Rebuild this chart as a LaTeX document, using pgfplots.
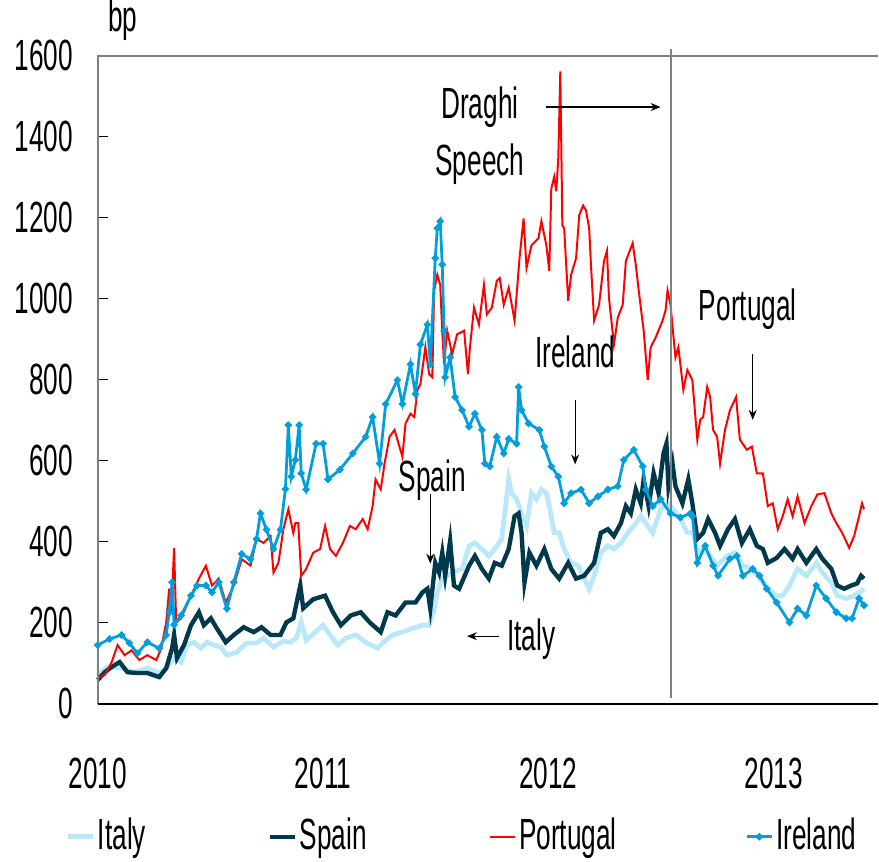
\documentclass[border=0pt]{standalone}
\usepackage{fontspec}
\setmainfont{Liberation Sans}[FakeStretch=0.6]
\usepackage{pgfplots}
\pgfplotsset{compat=1.18}
\usetikzlibrary{arrows.meta}
\definecolor{italyc}{RGB}{185,232,250}
\definecolor{spainc}{RGB}{0,56,76}
\definecolor{portc}{RGB}{255,0,0}
\definecolor{irec}{RGB}{0,158,218}
\pgfplotsset{irelegend/.style={legend image code/.code={\draw[##1, mark repeat=2, mark phase=2] plot coordinates {(0pt,0pt) (6.25pt,0pt) (12.5pt,0pt)};}}}
\begin{document}
\fontsize{22}{26}\selectfont
\begin{tikzpicture}
\begin{axis}[name=ax, scale only axis, width=393pt, height=326.5pt,
 xmin=0, xmax=3.463, ymin=0, ymax=1600,
 font=\fontsize{22}{26}\selectfont,
 axis line style={draw=none},
 clip=false,
 xtick={0,1,2,3}, xticklabels={2010,2011,2012,2013},
 x tick style={draw=none},
 xticklabel style={yshift=-20pt},
 ytick={0,200,...,1600},
 ytick pos=left, tick align=inside, major tick length=5pt,
 y tick style={black, line width=0.6pt},
 yticklabel style={xshift=-5pt},
 /pgf/number format/assume math mode=true,
 /pgf/number format/1000 sep={},
 legend columns=4,
 legend style={draw=none, fill=none, at={(-0.042,-0.205)}, anchor=west, inner sep=0pt,
   nodes={inner sep=1.5pt},
   column sep=0pt,
   font=\fontsize{22}{26}\selectfont},
 legend image code/.code={\draw[#1] (0pt,0pt) -- (12.5pt,0pt);},
]
\addplot[italyc, line width=2.4pt] coordinates {
(0.000,71)(0.044,91)(0.106,88)(0.163,78)(0.220,88)(0.273,76)(0.304,88)(0.339,113)(0.370,103)
(0.396,145)(0.427,152)(0.458,137)(0.485,152)(0.515,145)(0.546,140)(0.573,120)(0.617,127)
(0.661,150)(0.705,150)(0.736,162)(0.780,140)(0.824,155)(0.855,152)(0.881,162)(0.903,201)
(0.925,157)(0.956,172)(1.000,194)(1.031,170)(1.066,145)(1.101,162)(1.145,170)(1.189,152)
(1.242,137)(1.264,150)(1.308,170)(1.352,177)(1.396,186)(1.441,194)(1.471,194)(1.493,235)
(1.507,275)(1.529,309)(1.573,324)(1.617,333)(1.648,390)(1.674,397)(1.705,382)(1.736,365)
(1.762,382)(1.793,407)(1.824,554)(1.837,520)(1.859,505)(1.881,470)(1.903,439)(1.925,520)
(1.947,505)(1.969,529)(1.991,520)(2.004,488)(2.026,422)(2.048,422)(2.070,382)(2.101,348)
(2.132,341)(2.159,309)(2.181,284)(2.203,316)(2.233,373)(2.264,390)(2.291,382)(2.322,397)
(2.352,422)(2.379,439)(2.410,463)(2.432,446)(2.463,422)(2.498,480)(2.529,495)(2.555,480)
(2.586,456)(2.617,422)(2.643,422)(2.661,373)(2.687,382)(2.718,365)(2.749,341)(2.793,365)
(2.828,373)(2.863,341)(2.903,333)(2.938,309)(2.974,284)(3.013,267)(3.040,267)(3.070,292)
(3.106,333)(3.145,316)(3.189,348)(3.216,324)(3.256,299)(3.282,267)(3.322,260)(3.357,267)
(3.392,279)(3.401,284)
};
\addlegendentry{\makebox[84pt][l]{Italy}}
\addplot[spainc, line width=2.2pt] coordinates {
(0.000,59)(0.031,78)(0.062,91)(0.097,103)(0.132,78)(0.176,76)(0.220,76)(0.273,66)(0.304,88)
(0.330,137)(0.339,170)(0.352,113)(0.383,145)(0.414,194)(0.449,226)(0.471,194)(0.502,211)
(0.529,186)(0.568,152)(0.604,170)(0.648,189)(0.692,177)(0.727,189)(0.767,170)(0.811,170)
(0.837,201)(0.868,211)(0.899,292)(0.912,236)(0.956,258)(1.009,267)(1.044,226)(1.079,194)
(1.123,218)(1.167,226)(1.207,201)(1.256,177)(1.286,226)(1.322,218)(1.366,250)(1.410,250)
(1.441,275)(1.463,284)(1.476,235)(1.498,348)(1.515,324)(1.529,373)(1.542,316)(1.564,402)
(1.581,292)(1.604,284)(1.648,341)(1.674,365)(1.705,333)(1.736,309)(1.762,348)(1.793,341)
(1.824,382)(1.850,463)(1.868,470)(1.881,422)(1.894,299)(1.916,373)(1.947,341)(1.982,382)
(2.013,333)(2.048,309)(2.088,348)(2.123,309)(2.159,316)(2.203,348)(2.233,422)(2.264,431)
(2.291,414)(2.322,446)(2.344,488)(2.366,470)(2.388,529)(2.410,495)(2.423,554)(2.445,488)
(2.467,569)(2.489,520)(2.511,618)(2.524,642)(2.533,537)(2.551,593)(2.564,537)(2.595,495)
(2.621,554)(2.639,495)(2.661,407)(2.687,422)(2.709,456)(2.740,422)(2.762,390)(2.797,431)
(2.828,456)(2.859,397)(2.894,431)(2.925,390)(2.952,382)(2.974,348)(3.013,360)(3.048,382)
(3.084,358)(3.106,382)(3.145,348)(3.189,382)(3.216,358)(3.256,333)(3.282,292)(3.313,284)
(3.344,292)(3.370,297)(3.388,316)(3.401,309)
};
\addlegendentry{\makebox[94pt][l]{Spain}}
\addplot[portc, line width=1pt] coordinates {
(0.000,64)(0.031,71)(0.062,103)(0.088,145)(0.119,120)(0.150,132)(0.185,108)(0.220,120)
(0.260,108)(0.282,137)(0.304,201)(0.317,284)(0.326,225)(0.339,385)(0.348,201)(0.370,211)
(0.414,267)(0.449,309)(0.480,341)(0.507,292)(0.537,309)(0.568,250)(0.604,292)(0.639,357)
(0.678,341)(0.705,407)(0.736,397)(0.767,414)(0.780,324)(0.802,348)(0.824,431)(0.846,480)
(0.868,422)(0.877,446)(0.890,446)(0.903,316)(0.925,333)(0.956,373)(0.987,382)(1.009,439)
(1.031,382)(1.057,365)(1.088,397)(1.119,439)(1.145,431)(1.176,456)(1.198,431)(1.220,488)
(1.233,554)(1.256,529)(1.273,593)(1.295,659)(1.317,676)(1.330,652)(1.352,610)(1.366,692)
(1.388,716)(1.405,708)(1.419,775)(1.432,789)(1.454,880)(1.471,814)(1.485,806)(1.493,1020)
(1.507,1059)(1.520,1034)(1.529,921)(1.537,838)(1.551,921)(1.573,863)(1.595,912)(1.626,921)
(1.643,814)(1.652,880)(1.670,978)(1.692,936)(1.714,1034)(1.727,961)(1.749,978)(1.771,1044)
(1.784,1051)(1.802,985)(1.824,1027)(1.850,946)(1.872,1100)(1.890,1198)(1.903,1076)
(1.925,1132)(1.956,1149)(1.969,1191)(1.991,1132)(2.004,1069)(2.013,1272)(2.026,1301)
(2.035,1265)(2.044,1346)(2.053,1561)(2.062,1181)(2.070,1174)(2.088,995)(2.101,1059)
(2.123,1100)(2.137,1206)(2.154,1230)(2.167,1218)(2.181,1174)(2.189,1084)(2.203,946)
(2.225,985)(2.247,1093)(2.260,1118)(2.269,1002)(2.291,887)(2.308,953)(2.330,985)(2.344,1093)
(2.374,1137)(2.388,1084)(2.401,1020)(2.423,921)(2.441,799)(2.454,880)(2.476,904)(2.507,946)
(2.520,971)(2.529,1020)(2.542,985)(2.564,855)(2.577,880)(2.599,775)(2.617,824)(2.639,799)
(2.661,652)(2.674,701)(2.687,708)(2.705,782)(2.718,757)(2.731,676)(2.749,659)(2.762,593)
(2.784,676)(2.806,725)(2.833,757)(2.850,652)(2.881,627)(2.903,635)(2.925,569)(2.952,569)
(2.974,488)(2.996,495)(3.018,431)(3.040,463)(3.062,505)(3.084,463)(3.106,512)(3.137,446)
(3.167,488)(3.194,517)(3.225,520)(3.256,470)(3.278,446)(3.304,422)(3.335,385)(3.357,414)
(3.379,463)(3.392,495)(3.401,480)
};
\addlegendentry{\makebox[112.5pt][l]{Portugal}}
\addplot[irec, line width=1.4pt, mark=*, mark size=1pt, irelegend] coordinates {
(0.000,145)(0.053,160)(0.106,170)(0.140,150)(0.176,125)(0.220,152)(0.273,137)(0.304,170)
(0.317,225)(0.330,300)(0.339,195)(0.370,218)(0.414,267)(0.441,292)(0.480,292)(0.507,275)
(0.537,300)(0.573,235)(0.604,300)(0.639,370)(0.678,357)(0.705,407)(0.722,470)(0.749,430)
(0.780,382)(0.811,430)(0.833,530)(0.846,688)(0.859,561)(0.877,602)(0.894,688)(0.903,569)
(0.925,529)(0.969,642)(1.000,642)(1.022,554)(1.075,578)(1.132,618)(1.189,659)(1.220,708)
(1.251,593)(1.278,740)(1.330,799)(1.352,740)(1.388,838)(1.410,765)(1.432,887)(1.463,936)
(1.476,838)(1.498,1100)(1.507,1174)(1.520,1191)(1.529,1084)(1.537,921)(1.542,806)
(1.564,855)(1.586,757)(1.617,725)(1.648,684)(1.674,716)(1.705,676)(1.718,593)(1.740,586)
(1.771,659)(1.802,618)(1.824,654)(1.859,642)(1.868,782)(1.881,725)(1.912,692)(1.960,676)
(1.982,635)(2.013,586)(2.044,561)(2.070,495)(2.101,520)(2.145,529)(2.181,495)(2.220,512)
(2.264,529)(2.308,537)(2.335,602)(2.379,627)(2.419,586)(2.432,529)(2.463,488)(2.498,505)
(2.542,470)(2.586,460)(2.630,470)(2.639,463)(2.661,348)(2.696,390)(2.731,341)(2.753,316)
(2.806,358)(2.837,365)(2.863,316)(2.907,333)(2.938,316)(2.969,284)(3.013,250)(3.070,201)
(3.106,235)(3.145,218)(3.189,292)(3.233,260)(3.278,226)(3.322,211)(3.348,211)(3.379,260)
(3.401,243)
};
\addlegendentry{Ireland}
% axis frame
\draw[gray, line width=1pt] (rel axis cs:0,0) -- (rel axis cs:0,1) -- (rel axis cs:1,1);
\draw[black, line width=1pt] (rel axis cs:0,0) -- (rel axis cs:1,0);
% Draghi line
\draw[gray, line width=1pt] (axis cs:2.546,15) -- (axis cs:2.546,1616);
% annotations
\node[anchor=base west, inner sep=0pt, xshift=5pt, yshift=12pt] at (rel axis cs:0,1) {bp};
\node[anchor=base] at (axis cs:1.696,1444) {Draghi};
\node[anchor=base] at (axis cs:1.696,1304) {Speech};
\draw[-{Stealth[length=5pt,width=4pt]}, line width=0.6pt] (axis cs:1.991,1473) -- (axis cs:2.498,1473);
\node[anchor=base] at (axis cs:2.885,946) {Portugal};
\draw[-{Stealth[length=5pt,width=4pt]}, line width=0.6pt] (axis cs:2.907,863) -- (axis cs:2.907,701);
\node[anchor=base] at (axis cs:2.119,831) {Ireland};
\draw[-{Stealth[length=5pt,width=4pt]}, line width=0.6pt] (axis cs:2.119,750) -- (axis cs:2.119,591);
\node[anchor=base] at (axis cs:1.485,525) {Spain};
\draw[-{Stealth[length=5pt,width=4pt]}, line width=0.6pt] (axis cs:1.476,517) -- (axis cs:1.476,346);
\node[anchor=base west, inner sep=0pt] at (axis cs:1.815,132) {Italy};
\draw[-{Stealth[length=5pt,width=4pt]}, line width=0.6pt] (axis cs:1.780,167) -- (axis cs:1.639,167);
\end{axis}
\path ([xshift=-46.5pt,yshift=-79.5pt]ax.south west) rectangle ([yshift=28pt]ax.north east);
\end{tikzpicture}
\end{document}
